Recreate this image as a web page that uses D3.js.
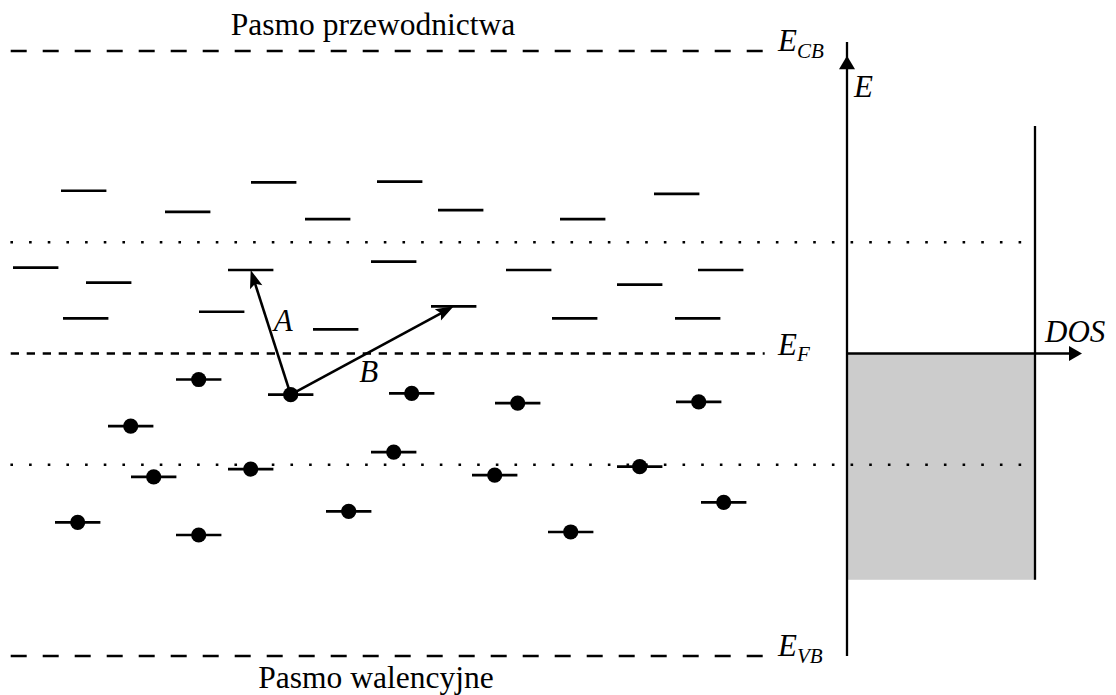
<!DOCTYPE html>
<html>
<head>
<meta charset="utf-8">
<script src="https://cdn.jsdelivr.net/npm/d3@7"></script>
<style>
  html, body { margin: 0; padding: 0; background: #fff; }
  svg { display: block; }
  text { font-family: "Liberation Serif", "DejaVu Serif", serif; fill: #000; }
</style>
</head>
<body>
<svg id="chart" width="1116" height="695"></svg>
<script>
// Band edges and Fermi level (energy, E_VB = 0, E_CB = 1)
const bandNames = ["CB", "F", "VB"];
const bandEnergy = [1, 0.5, 0];
const bandTitles = ["Pasmo przewodnictwa", "Pasmo walencyjne"];

// Boundaries of the trap band (dotted lines)
const trapBandEnergy = [0.684, 0.316];

// Empty localized states: position along the sample and energy
const emptyX = [73, 177, 263, 317, 389, 450, 572, 666, 25, 98, 75, 240, 211, 383, 325, 443, 518, 564, 629, 710, 687];
const emptyE = [0.769, 0.734, 0.783, 0.722, 0.784, 0.737, 0.722, 0.764, 0.642, 0.617, 0.558, 0.638, 0.569, 0.652, 0.540, 0.578, 0.638, 0.558, 0.614, 0.638, 0.558];

// Occupied localized states (electron on level)
const filledX = [188, 280, 401, 507, 120, 688, 383, 143, 240, 484, 67, 188, 338, 560, 629, 713];
const filledE = [0.457, 0.432, 0.434, 0.418, 0.380, 0.420, 0.337, 0.296, 0.309, 0.299, 0.221, 0.200, 0.239, 0.205, 0.313, 0.254];

// Hopping transitions: from occupied state index to empty state index
const hopLabels = ["A", "B"];
const hopFrom = [1, 1];
const hopTo = [11, 15];

// Density of states: constant within the trap band
const dosBandE = [0.126, 0.876];
const dosValue = 1;
const dosAxisMax = 1.25;

const svg = d3.select("#chart");
const x = d3.scaleLinear().domain([0, 752]).range([10.7, 762.7]);
const y = d3.scaleLinear().domain([0, 1]).range([656, 51]);
const dos = d3.scaleLinear().domain([0, 1]).range([847, 1035]);
const halfLevel = 22.7;

// Filled part of the density of states (below E_F)
svg.append("rect")
  .attr("x", dos(0)).attr("width", dos(dosValue) - dos(0))
  .attr("y", y(bandEnergy[1])).attr("height", y(dosBandE[0]) - y(bandEnergy[1]))
  .attr("fill", "#cccccc");

// Trap band boundaries
svg.selectAll(".trap").data(trapBandEnergy).enter().append("line")
  .attr("x1", 10.4).attr("x2", 1024)
  .attr("y1", d => y(d)).attr("y2", d => y(d))
  .attr("stroke", "#000").attr("stroke-width", 2.6)
  .attr("stroke-dasharray", "2.6 16.07");

// Band edges and Fermi level
svg.selectAll(".band").data(bandEnergy).enter().append("line")
  .attr("x1", x(0)).attr("x2", (d, i) => i === 1 ? x(754) : x(752))
  .attr("y1", d => y(d)).attr("y2", d => y(d))
  .attr("stroke", "#000")
  .attr("stroke-width", (d, i) => i === 1 ? 2.3 : 2.6)
  .attr("stroke-dasharray", (d, i) => i === 1 ? "8.3 7.7" : "16 16");

// Band labels E_CB, E_F, E_VB
bandNames.forEach((name, i) => {
  const t = svg.append("text")
    .attr("x", 778).attr("y", y(bandEnergy[i]) + (i === 1 ? 1 : 0))
    .attr("font-size", 31).attr("font-style", "italic");
  t.append("tspan").text("E");
  t.append("tspan").attr("font-size", 21).attr("dy", 6.5).text(name);
});

// Band titles
svg.append("text").attr("x", 373).attr("y", 35)
  .attr("text-anchor", "middle").attr("font-size", 31.5).text(bandTitles[0]);
svg.append("text").attr("x", 376).attr("y", 688)
  .attr("text-anchor", "middle").attr("font-size", 31.5).text(bandTitles[1]);

// Empty levels
svg.selectAll(".empty").data(emptyX).enter().append("line")
  .attr("x1", d => x(d - halfLevel)).attr("x2", d => x(d + halfLevel))
  .attr("y1", (d, i) => y(emptyE[i])).attr("y2", (d, i) => y(emptyE[i]))
  .attr("stroke", "#000").attr("stroke-width", 2.7);

// Occupied levels with electrons
const filled = svg.selectAll(".filled").data(filledX).enter().append("g");
filled.append("line")
  .attr("x1", d => x(d - halfLevel)).attr("x2", d => x(d + halfLevel))
  .attr("y1", (d, i) => y(filledE[i])).attr("y2", (d, i) => y(filledE[i]))
  .attr("stroke", "#000").attr("stroke-width", 2.7);
filled.append("circle")
  .attr("cx", d => x(d)).attr("cy", (d, i) => y(filledE[i]))
  .attr("r", 7.6).attr("fill", "#000");

// Hopping arrows
function arrowHead(tx, ty, ang, len, half, notch) {
  const c = Math.cos(ang), s = Math.sin(ang);
  const bx = tx - len * c, by = ty - len * s;
  const nx = tx - (len - notch) * c, ny = ty - (len - notch) * s;
  return `M${tx},${ty}L${bx - half * s},${by + half * c}L${nx},${ny}L${bx + half * s},${by - half * c}Z`;
}
// label offsets from the arrow midpoint
const labelOffsets = [[3, -1], [-13, 32]];
hopLabels.forEach((lab, i) => {
  const x0 = x(filledX[hopFrom[i]]), y0 = y(filledE[hopFrom[i]]);
  const x1 = x(emptyX[hopTo[i]]), y1 = y(emptyE[hopTo[i]]);
  const ang = Math.atan2(y1 - y0, x1 - x0);
  const ex = x1 - 12 * Math.cos(ang), ey = y1 - 12 * Math.sin(ang);
  svg.append("line").attr("x1", x0).attr("y1", y0).attr("x2", ex).attr("y2", ey)
    .attr("stroke", "#000").attr("stroke-width", 2.6);
  svg.append("path").attr("d", arrowHead(x1, y1, ang, 18, 6.5, 3.5)).attr("fill", "#000");
  const mx = (x0 + x1) / 2, my = (y0 + y1) / 2;
  svg.append("text")
    .attr("x", mx + labelOffsets[i][0])
    .attr("y", my + labelOffsets[i][1])
    .attr("font-size", 31).attr("font-style", "italic").text(lab);
});

// Energy axis of the DOS panel
svg.append("line").attr("x1", dos(0)).attr("x2", dos(0))
  .attr("y1", y(0)).attr("y2", y(1.015))
  .attr("stroke", "#000").attr("stroke-width", 2.3);
svg.append("path")
  .attr("d", `M${dos(0)},${y(0.992)}L${dos(0) - 8},${y(0.97)}L${dos(0) + 8},${y(0.97)}Z`)
  .attr("fill", "#000");
svg.append("text").attr("x", 854).attr("y", 97)
  .attr("font-size", 31).attr("font-style", "italic").text("E");

// DOS axis along E_F
svg.append("line").attr("x1", dos(0)).attr("x2", dos(dosAxisMax) - 10)
  .attr("y1", y(bandEnergy[1])).attr("y2", y(bandEnergy[1]))
  .attr("stroke", "#000").attr("stroke-width", 2.3);
svg.append("path")
  .attr("d", `M${dos(dosAxisMax)},${y(bandEnergy[1])}L${dos(dosAxisMax) - 13},${y(bandEnergy[1]) - 7.5}L${dos(dosAxisMax) - 13},${y(bandEnergy[1]) + 7.5}Z`)
  .attr("fill", "#000");
svg.append("text").attr("x", 1045).attr("y", 342)
  .attr("font-size", 31).attr("font-style", "italic").text("DOS");

// DOS edge of the trap band
svg.append("line").attr("x1", dos(dosValue)).attr("x2", dos(dosValue))
  .attr("y1", y(dosBandE[0])).attr("y2", y(dosBandE[1]))
  .attr("stroke", "#000").attr("stroke-width", 2.3);
</script>
</body>
</html>
